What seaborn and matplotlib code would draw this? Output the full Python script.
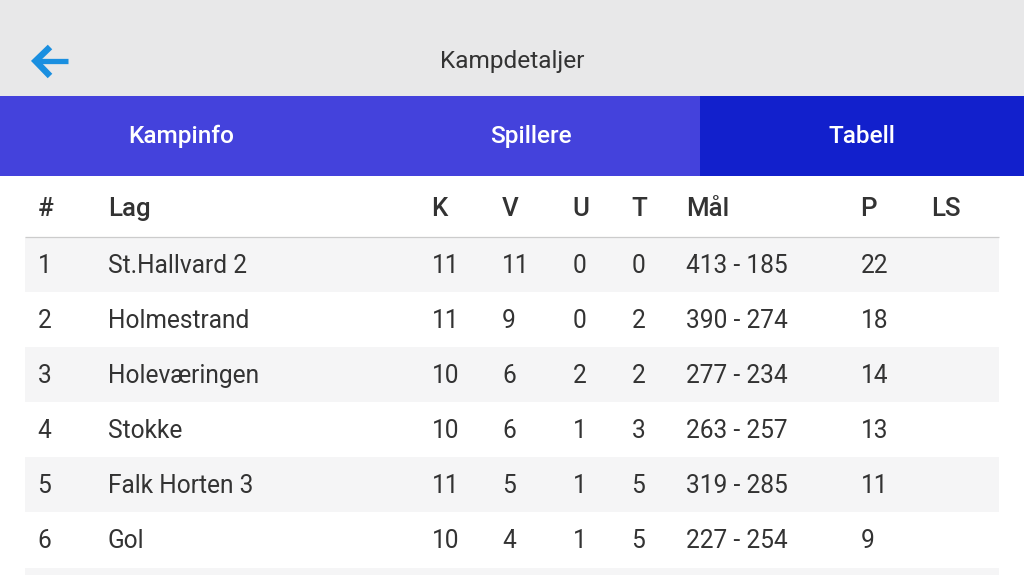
import matplotlib
matplotlib.use("Agg")
import matplotlib.pyplot as plt
from matplotlib.patches import Rectangle
import seaborn as sns

title = "Kampdetaljer"
tabs = ["Kampinfo", "Spillere", "Tabell"]
columns = ["#", "Lag", "K", "V", "U", "T", "Mål", "P", "LS"]
ranks = ["1", "2", "3", "4", "5", "6"]
teams = ["St.Hallvard 2", "Holmestrand", "Holeværingen", "Stokke", "Falk Horten 3", "Gol"]
played = [11, 11, 10, 10, 11, 10]
wins = [11, 9, 6, 6, 5, 4]
draws = [0, 0, 2, 1, 1, 1]
losses = [0, 2, 2, 3, 5, 5]
goals = ["413 - 185", "390 - 274", "277 - 234", "263 - 257", "319 - 285", "227 - 254"]
points = [22, 18, 14, 13, 11, 9]

# layout, in reference pixels
col_x = [37.5, 107.7, 431.5, 502, 572.5, 631.5, 686, 860.5, 931.5]
row_y = [264, 319, 374, 429, 484, 539]
stripes = [(237, 55), (347, 55), (457, 55), (568, 7)]
tab_x = [181, 531, 862]

sns.set_theme(style="white", rc={"font.family": ["Roboto", "DejaVu Sans"]})
fig = plt.figure(figsize=(10.24, 5.75), dpi=100, facecolor="white")
ax = fig.add_axes([0, 0, 1, 1])
ax.set_xlim(0, 1024)
ax.set_ylim(575, 0)
ax.axis("off")
sns.despine(ax=ax, left=True, bottom=True)

ax.add_patch(Rectangle((0, 0), 1024, 96, fc="#e8e8e9", ec="none"))
ax.add_patch(Rectangle((0, 96), 700, 80, fc="#4442dc", ec="none"))
ax.add_patch(Rectangle((700, 96), 324, 80, fc="#1220cc", ec="none"))
for y, h in stripes:
    ax.add_patch(Rectangle((25, y), 974, h, fc="#f5f5f6", ec="none"))
ax.plot([25, 999], [236.5, 236.5], color="#cccccc", lw=0.9, solid_capstyle="butt")

arrow = "#1a8fe0"
ax.plot([38, 68], [61, 61], color=arrow, lw=3.8, solid_capstyle="butt")
ax.plot([50, 35.5, 50], [47, 61, 76], color=arrow, lw=4.6,
        solid_joinstyle="miter", solid_capstyle="butt")

dark = "#333333"
FS = 17.65
ax.text(512, 68, title, ha="center", va="baseline", fontsize=17.6, color=dark)
for label, x in zip(tabs, tab_x):
    ax.text(x, 143, label, ha="center", va="baseline", fontsize=17.6, color="white", fontweight=500)
for label, x in zip(columns, col_x):
    ax.text(x, 215.8, label, ha="left", va="baseline", fontsize=18.6, color=dark, fontweight=500)

for i, y in enumerate(row_y):
    row = [ranks[i], teams[i], played[i], wins[i], draws[i], losses[i], goals[i], points[i]]
    for value, x in zip(row, col_x):
        ax.text(x, y + 8.75, str(value), ha="left", va="baseline", fontsize=FS, color=dark)

fig.savefig("out.png", dpi=100, facecolor="white")
